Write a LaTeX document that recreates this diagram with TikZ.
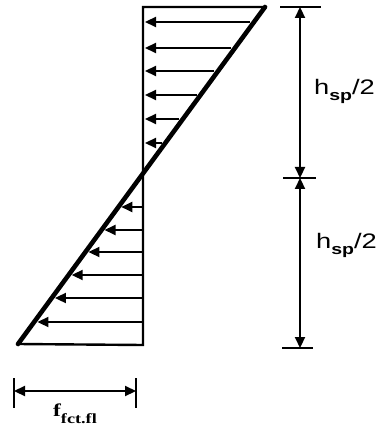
\documentclass[tikz,border=0pt]{standalone}
\usepackage{fontspec}
\setmainfont{Liberation Serif}
\setsansfont{Liberation Sans}
\usetikzlibrary{arrows.meta, calc}

\begin{document}
\begin{tikzpicture}[
  x=1pt, y=-1pt,
  axisline/.style={line width=2.4pt},
  slope/.style={line width=4.6pt, line cap=round},
  force/.style={line width=2.2pt, -{Triangle[length=11pt, width=10pt]}},
  dimline/.style={line width=2.2pt, {Triangle[length=11pt, width=10pt]}-{Triangle[length=11pt, width=10pt]}},
  tickmark/.style={line width=2.4pt},
  hlabel/.style={anchor=base west, inner sep=0pt, font=\sffamily\fontsize{21}{21}\selectfont},
  flabel/.style={anchor=base, inner sep=0pt, font=\bfseries\fontsize{18}{18}\selectfont}
]
  \useasboundingbox (0,0) rectangle (378,427);

  % stress block corners
  \coordinate (top)  at (143,7);
  \coordinate (tipR) at (265,7);
  \coordinate (base) at (143,345);
  \coordinate (tipL) at (18,344);

  \draw[axisline] (tipR) -- (top) -- (base) -- (tipL);
  \draw[slope] (tipR) -- (tipL);

  % force arrows, upper half
  \foreach \y in {22,48,71,95,119,143} {
    \pgfmathsetmacro\xd{265-0.7286*(\y-7)-4}
    \draw[force] (\xd,\y) -- (145,\y);
  }
  % force arrows, lower half
  \foreach \y in {207,230,252,275,298,322} {
    \pgfmathsetmacro\xd{265-0.7286*(\y-7)+2}
    \draw[force] (143,\y) -- (\xd,\y);
  }

  % height dimension
  \coordinate (dtop) at (300,7);
  \coordinate (dmid) at (300,178);
  \coordinate (dbot) at (300,348);
  \draw[tickmark] ($(dtop)+(-20,0)$) -- ($(dtop)+(21,0)$);
  \draw[tickmark] ($(dmid)+(-17,0)$) -- ($(dmid)+(16,0)$);
  \draw[tickmark] ($(dbot)+(-18,0)$) -- ($(dbot)+(13,0)$);
  \draw[dimline] (dtop) -- (dmid);
  \draw[dimline] (dmid) -- (dbot);

  \node[hlabel] (hup) at (314,95)
    {\scalebox{1.3}[1]{h\raisebox{-6pt}{\fontsize{15}{15}\selectfont\bfseries sp}/2}};
  \node[hlabel] (hdown) at (316,248)
    {\scalebox{1.3}[1]{h\raisebox{-6pt}{\fontsize{15}{15}\selectfont\bfseries sp}/2}};

  % width dimension
  \coordinate (wl) at (14,391);
  \coordinate (wr) at (136,391);
  \draw[tickmark] ($(wl)+(0,-13)$) -- ($(wl)+(0,17)$);
  \draw[tickmark] ($(wr)+(0,-13)$) -- ($(wr)+(0,17)$);
  \draw[dimline] (wl) -- (wr);

  \node[flabel] (fct) at (75,416)
    {\scalebox{1.3}[1]{f\raisebox{-7pt}{\fontsize{14}{14}\selectfont fct.fl}}};
\end{tikzpicture}
\end{document}
